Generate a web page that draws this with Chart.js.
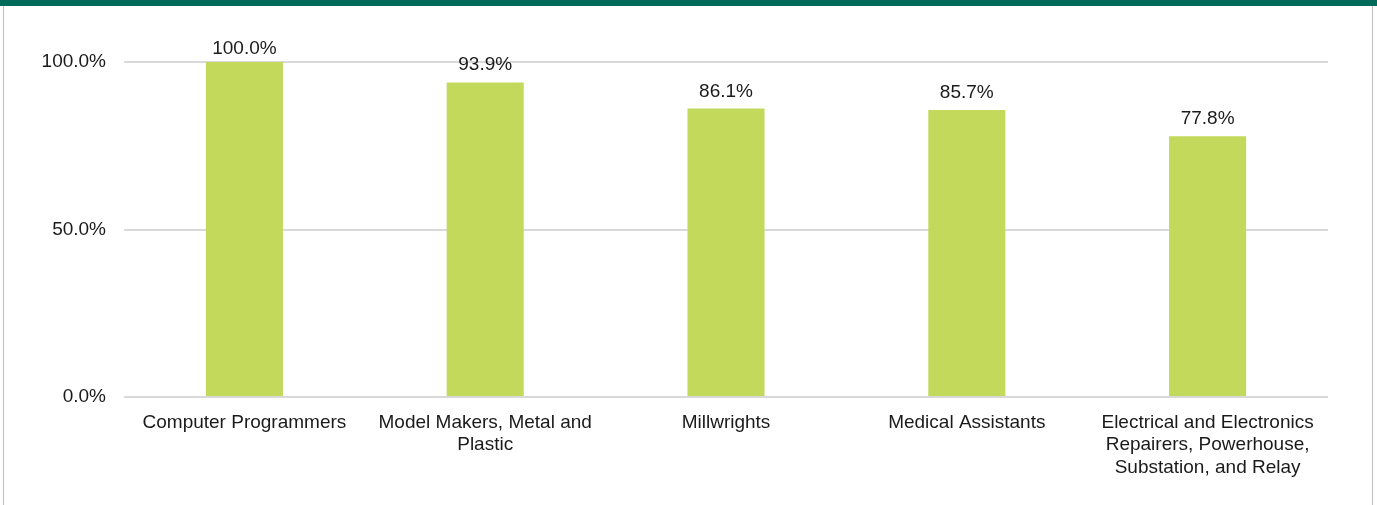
<!DOCTYPE html>
<html>
<head>
<meta charset="utf-8">
<script src="https://cdn.jsdelivr.net/npm/chart.js@4.4.1/dist/chart.umd.min.js"></script>
<style>
  body { margin: 0; background: #fff; }
  #wrap { position: relative; width: 1377px; height: 505px; overflow: hidden; }
  #band { position: absolute; left: 0; top: 0; width: 1377px; height: 6px; background: #006B5A; }
  #frame { position: absolute; left: 3px; top: 6px; width: 1368px; height: 505px;
           border-left: 1px solid #BFBFBF; border-right: 1px solid #BFBFBF; }
  #myChart { position: absolute; left: 0; top: 0; }
</style>
</head>
<body>
<div id="wrap">
  <div id="band"></div>
  <div id="frame"></div>
  <canvas id="myChart" width="1377" height="505"></canvas>
</div>
<script>
// Datos del gráfico
var categorias = [
  "Computer Programmers",
  ["Model Makers, Metal and", "Plastic"],
  "Millwrights",
  "Medical Assistants",
  ["Electrical and Electronics", "Repairers, Powerhouse,", "Substation, and Relay"]
];
var valores = [100.0, 93.9, 86.1, 85.7, 77.8];
var ticksY = [0, 50, 100];

var fuente = "'Liberation Sans', Arial, sans-serif";

// Etiquetas de valor encima de las barras
var etiquetas = {
  id: "etiquetas",
  afterDatasetsDraw: function (chart) {
    var ctx = chart.ctx;
    var meta = chart.getDatasetMeta(0);
    ctx.save();
    ctx.font = "19px " + fuente;
    ctx.fillStyle = "#1a1a1a";
    ctx.textAlign = "center";
    ctx.textBaseline = "alphabetic";
    meta.data.forEach(function (bar, i) {
      var y = Math.max(bar.y - 12, chart.chartArea.top - 8);
      ctx.fillText(valores[i].toFixed(1) + "%", bar.x, y);
    });
    ctx.restore();
  }
};

var ctx = document.getElementById("myChart").getContext("2d");
var myChart = new Chart(ctx, {
  type: "bar",
  data: {
    labels: categorias,
    datasets: [
      {
        label: "Valor",
        data: valores,
        backgroundColor: "#C3D95B",
        barPercentage: 0.32,
        categoryPercentage: 1.0
      }
    ]
  },
  options: {
    responsive: false,
    animation: false,
    layout: { padding: { top: 62, right: 49, left: 0, bottom: 0 } },
    plugins: { legend: { display: false }, tooltip: { enabled: false } },
    scales: {
      x: {
        grid: { display: false },
        border: { display: false },
        ticks: {
          color: "#1a1a1a",
          font: { family: fuente, size: 19, lineHeight: 1.2 },
          padding: 6,
          maxRotation: 0,
          autoSkip: false
        },
        afterFit: function (scale) { scale.height = 108; }
      },
      y: {
        min: 0,
        max: 100,
        afterBuildTicks: function (scale) {
          scale.ticks = ticksY.map(function (v) { return { value: v }; });
        },
        grid: { color: "#D9D9D9", lineWidth: 2, drawTicks: false },
        border: { display: false },
        ticks: {
          color: "#1a1a1a",
          font: { family: fuente, size: 19 },
          padding: 18,
          callback: function (v) { return Number(v).toFixed(1) + "%"; }
        },
        afterFit: function (scale) { scale.width = 124; }
      }
    }
  },
  plugins: [etiquetas]
});
</script>
</body>
</html>
